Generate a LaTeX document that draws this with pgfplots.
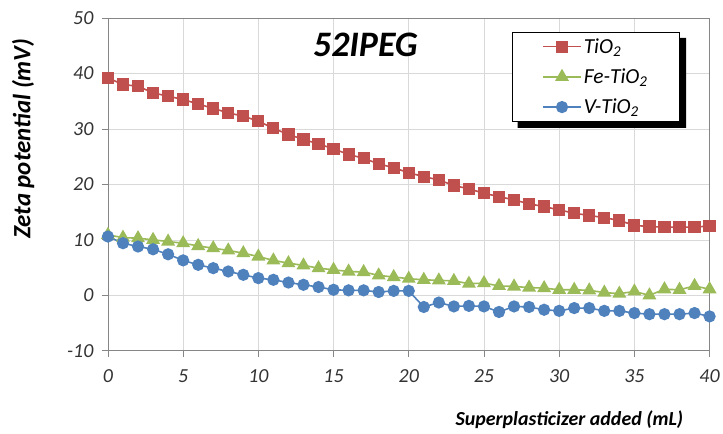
\documentclass[border=0pt]{standalone}
\usepackage{fontspec}
\setmainfont{Carlito}
\usepackage{pgfplots}
\pgfplotsset{compat=1.18}
\definecolor{cred}{HTML}{C0504D}
\definecolor{cgreen}{HTML}{9BBB59}
\definecolor{cblue}{HTML}{4F81BD}
\definecolor{gridgray}{HTML}{D9D9D9}
\definecolor{axgray}{HTML}{868686}
\begin{document}
\begin{tikzpicture}
\begin{axis}[
  scale only axis, width=602bp, height=333bp,
  xmin=0, xmax=40, ymin=-10, ymax=50,
  xtick={0,5,...,40}, ytick={-10,0,...,50},
  xtick pos=bottom, ytick pos=left,
  tick align=outside, major tick length=6bp,
  tick style={axgray, line width=0.8bp},
  axis line style={axgray, line width=0.8bp},
  grid=major, grid style={gridgray, line width=0.7bp},
  /pgf/number format/assume math mode=true,
  ticklabel style={font=\fontsize{20}{24}\selectfont\itshape, text=black!80},
  xticklabel style={yshift=-9bp},
  yticklabel style={xshift=-5bp},
  xlabel={\textbf{\textit{Superplasticizer added (mL)}}},
  ylabel={\textbf{\textit{Zeta potential (mV)}}},
  xlabel style={font=\fontsize{20}{24}\selectfont, at={(axis description cs:0.767,-0.207)}, anchor=center},
  ylabel style={font=\fontsize{25}{30}\selectfont, at={(axis description cs:-0.141,0.637)}, anchor=center},
  legend style={name=leg, at={(axis description cs:0.671,0.958)}, anchor=north west,
    draw=black, line width=1.2bp, inner xsep=30bp, inner ysep=4bp,
    row sep=10bp,
    font=\fontsize{21.5}{24}\selectfont\itshape},
  legend cell align=left,
  legend image code/.code={%
    \draw[mark repeat=2,mark phase=2] plot coordinates {(0bp,0bp)(19bp,0bp)(38bp,0bp)};},
  every axis plot/.append style={line width=1.6bp},
]
\coordinate (O) at (rel axis cs:0,0);
\addplot[cred, mark=square*, mark size=5.3bp, mark options={fill=cred}] coordinates {
(0,39.2)(1,38.0)(2,37.7)(3,36.5)(4,35.9)(5,35.3)(6,34.5)(7,33.7)(8,32.9)(9,32.3)(10,31.4)
(11,30.1)(12,29.0)(13,28.1)(14,27.3)(15,26.4)(16,25.4)(17,24.7)(18,23.7)(19,23.0)(20,22.1)
(21,21.4)(22,20.8)(23,19.8)(24,19.2)(25,18.4)(26,17.8)(27,17.2)(28,16.5)(29,16.0)(30,15.4)
(31,14.8)(32,14.4)(33,14.0)(34,13.5)(35,12.6)(36,12.4)(37,12.3)(38,12.3)(39,12.3)(40,12.5)};
\addlegendentry{TiO\textsubscript{2}}
\addplot[cgreen, mark=triangle*, mark size=6.5bp, mark options={fill=cgreen}] coordinates {
(0,10.9)(1,10.4)(2,10.3)(3,10.0)(4,9.7)(5,9.4)(6,8.9)(7,8.5)(8,8.1)(9,7.6)(10,7.0)
(11,6.3)(12,5.8)(13,5.4)(14,4.9)(15,4.6)(16,4.3)(17,4.2)(18,3.6)(19,3.3)(20,3.0)
(21,2.8)(22,2.7)(23,2.6)(24,2.1)(25,2.2)(26,1.7)(27,1.6)(28,1.4)(29,1.3)(30,1.0)
(31,1.0)(32,0.9)(33,0.5)(34,0.3)(35,0.7)(36,0.0)(37,1.1)(38,1.0)(39,1.7)(40,1.1)};
\addlegendentry{Fe-TiO\textsubscript{2}}
\addplot[cblue, mark=*, mark size=5.3bp, mark options={fill=cblue}] coordinates {
(0,10.6)(1,9.4)(2,8.8)(3,8.3)(4,7.4)(5,6.3)(6,5.5)(7,4.9)(8,4.3)(9,3.7)(10,3.1)
(11,2.8)(12,2.3)(13,1.9)(14,1.5)(15,1.0)(16,0.9)(17,0.9)(18,0.6)(19,0.8)(20,0.8)
(21,-2.1)(22,-1.3)(23,-2.0)(24,-1.9)(25,-2.0)(26,-3.0)(27,-2.0)(28,-2.1)(29,-2.6)(30,-2.8)
(31,-2.3)(32,-2.3)(33,-2.8)(34,-2.8)(35,-3.2)(36,-3.4)(37,-3.4)(38,-3.4)(39,-3.2)(40,-3.8)};
\addlegendentry{V-TiO\textsubscript{2}}
\node[font=\fontsize{36}{40}\selectfont\bfseries\itshape] at (axis description cs:0.428,0.919) {52IPEG};
\end{axis}
\fill[black] ([xshift=6bp]leg.south west) -- (leg.south east) -- ([yshift=-6bp]leg.north east)
  -- ([xshift=6bp,yshift=-6bp]leg.north east) -- ([xshift=6bp,yshift=-6bp]leg.south east)
  -- ([xshift=6bp,yshift=-6bp]leg.south west) -- cycle;
\path (O) ++(-108bp,-83bp) rectangle ++(723bp,434bp);
\end{tikzpicture}
\end{document}
